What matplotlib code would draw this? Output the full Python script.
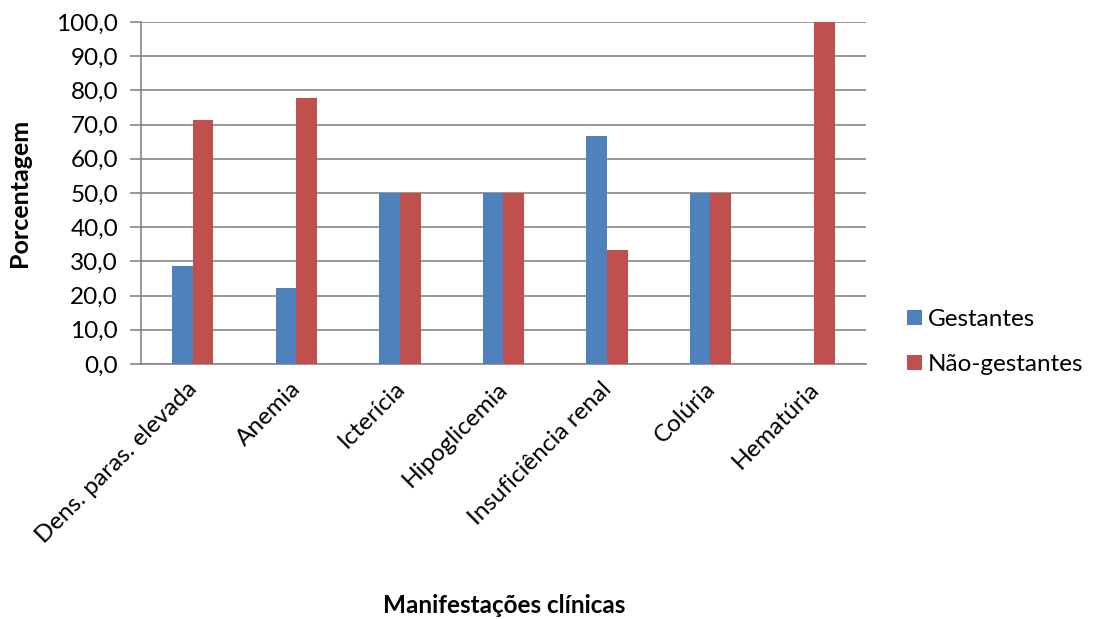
import matplotlib.pyplot as plt
from matplotlib.transforms import ScaledTranslation
import numpy as np

categories = ['Dens. paras. elevada', 'Anemia', 'Icterícia', 'Hipoglicemia',
              'Insuficiência renal', 'Colúria', 'Hematúria']
gestantes = [28.6, 22.2, 50.0, 50.0, 66.7, 50.0, 0.0]
nao_gestantes = [71.4, 77.8, 50.0, 50.0, 33.3, 50.0, 100.0]
yticks = np.arange(0, 101, 10)

plt.rcParams['font.family'] = ['Lato', 'DejaVu Sans']
fs = 17.5

fig = plt.figure(figsize=(10.93, 6.19), dpi=100)
ax = fig.add_axes([0.129, 0.412, 0.663, 0.5525])

x = np.arange(len(categories))
w = 0.2
ax.bar(x - w / 2, gestantes, w, color='#4F81BD', label='Gestantes', zorder=3)
ax.bar(x + w / 2, nao_gestantes, w, color='#C0504D', label='Não-gestantes', zorder=3)

ax.set_xlim(-0.5, len(categories) - 0.5)
ax.set_ylim(0, 100)
ax.set_yticks(yticks)
ax.set_yticklabels([f'{v:.1f}'.replace('.', ',') for v in yticks], fontsize=fs)
ax.yaxis.grid(True, color='#868686', linewidth=1.2, zorder=0)
ax.tick_params(axis='y', length=8, width=1.2, color='#868686', pad=8.5)
ax.tick_params(axis='x', length=0, pad=10)
ax.set_xticks(x)
ax.set_xticklabels(categories, rotation=45, ha='right', va='top',
                   rotation_mode='anchor', fontsize=fs)
# nudge the rotated labels a little to the left
shift = ScaledTranslation(-6 / 100, 0, fig.dpi_scale_trans)
for t in ax.get_xticklabels():
    t.set_transform(t.get_transform() + shift)

for side in ['top', 'right']:
    ax.spines[side].set_visible(False)
for side in ['left', 'bottom']:
    ax.spines[side].set_color('#868686')
    ax.spines[side].set_linewidth(1.2)

ax.set_ylabel('Porcentagem', fontsize=18, fontweight='bold')
ax.yaxis.set_label_coords(-0.152, 0.5)
fig.text(0.461, 0.0097, 'Manifestações clínicas', fontsize=fs,
         fontweight='bold', ha='center', va='baseline')

ax.legend(loc='center left', bbox_to_anchor=(1.027, 0.064), frameon=False,
          fontsize=fs, handlelength=0.6, handleheight=0.6, handletextpad=0.25,
          labelspacing=1.0)

fig.savefig('out.png', dpi=100)
